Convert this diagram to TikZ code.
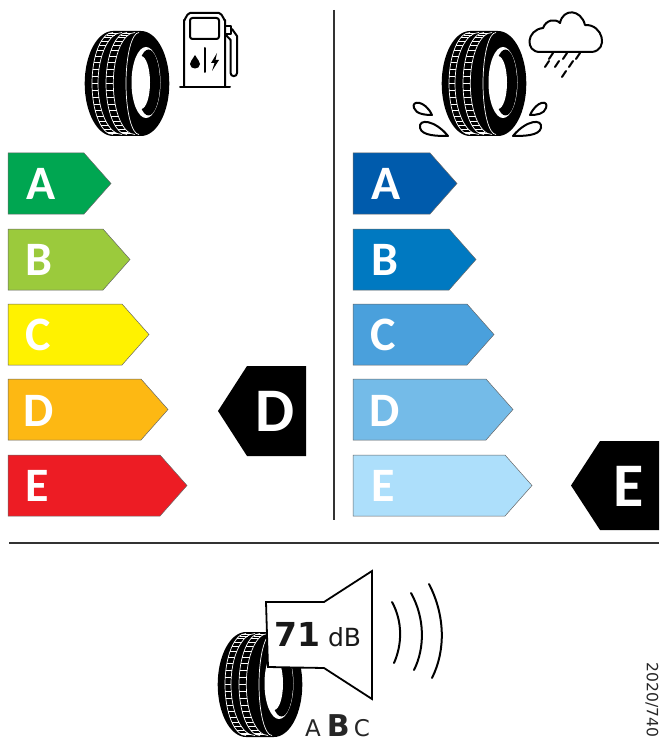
\documentclass[tikz,border=0pt]{standalone}
\usepackage{fontspec}
\setmainfont{Carlito}
\newfontfamily\labelfont{DejaVu Sans}
\definecolor{fuelA}{HTML}{00A651}
\definecolor{fuelB}{HTML}{9BCA3C}
\definecolor{fuelC}{HTML}{FFF200}
\definecolor{fuelD}{HTML}{FDB813}
\definecolor{fuelE}{HTML}{ED1C24}
\definecolor{wetA}{HTML}{005BAC}
\definecolor{wetB}{HTML}{0079C1}
\definecolor{wetC}{HTML}{4AA0DC}
\definecolor{wetD}{HTML}{74BBE8}
\definecolor{wetE}{HTML}{ADDFFB}
\tikzset{
	grade/.style={draw=black!60,line width=.5pt},
	letter/.style={anchor=base west,inner sep=0pt,text=white,font=\fontsize{48}{48}\selectfont\bfseries},
	bigletter/.style={anchor=base west,inner sep=0pt,text=white,font=\fontsize{62}{62}\selectfont\bfseries},
	rule/.style={line width=1.3pt,draw=black!80},
	icon/.style={line width=2pt,line cap=round,line join=round},
	tread/.style={white,line width=.7pt},
	tyre/.pic={
		\fill[black] (-28,-52.5) arc[start angle=90,end angle=270,x radius=28.3pt,y radius=52.5pt] -- (0,52.5) arc[start angle=-90,end angle=90,x radius=28.3pt,y radius=52.5pt] -- cycle;
		\fill[white] (5,-1) ellipse[x radius=14.5pt,y radius=35.5pt];
		\fill[black] (7.5,-1) ellipse[x radius=11.5pt,y radius=33pt];
		\fill[white] (0,-1) ellipse[x radius=9pt,y radius=26.5pt];
		\draw[tread] (-28,-51) arc[start angle=90,end angle=270,x radius=21pt,y radius=51pt];
		\draw[tread] (-19,-51) arc[start angle=90,end angle=270,x radius=24pt,y radius=51pt];
		\draw[tread] (-14,-51) arc[start angle=90,end angle=270,x radius=21pt,y radius=51pt];
		\draw[tread] (-6,-51) arc[start angle=90,end angle=270,x radius=21.7pt,y radius=51pt];
		\draw[tread] (-2,-51) arc[start angle=90,end angle=270,x radius=13pt,y radius=51pt];
		\foreach \t in {100,108,...,260} {
			\draw[tread] ({-28+21*cos(\t)},{51*sin(\t)}) -- ({-19+24*cos(\t)},{51*sin(\t)});
			\draw[tread] ({-14+21*cos(\t)},{51*sin(\t)}) -- ({-6+21.7*cos(\t)},{51*sin(\t)});
		}
	}
}
\begin{document}
\begin{tikzpicture}[x=1pt,y=-1pt]
	\useasboundingbox (0,0) rectangle (663,746);
	% rules
	\coordinate (railtop) at (334,10);
	\coordinate (railbottom) at (334,520);
	\coordinate (ruleleft) at (9,543);
	\coordinate (ruleright) at (659,543);
	\draw[rule] (railtop) -- (railbottom);
	\draw[rule] (ruleleft) -- (ruleright);
	% fuel scale
	\foreach \name/\col/\ytop/\tip/\xl/\base in {A/fuelA/153/111/26/199.5,B/fuelB/229/130/25/275,C/fuelC/304/149/25/350.5,D/fuelD/379/168/23/426,E/fuelE/455/187/25/501.5} {
		\draw[grade,fill=\col] (8,\ytop) -- ({\tip-27},\ytop) -- (\tip,\ytop+30.5) -- ({\tip-27},\ytop+61) -- (8,\ytop+61) -- cycle;
		\node[letter] (fuel\name) at (\xl,\base) {\name};
	}
	% wet grip scale
	\foreach \name/\col/\ytop/\tip/\xl/\base in {A/wetA/153/457/371/199.5,B/wetB/229/476/371/275,C/wetC/304/494/370/350.5,D/wetD/379/513/369/426,E/wetE/455/532/371/501.5} {
		\draw[grade,fill=\col] (353,\ytop) -- ({\tip-27},\ytop) -- (\tip,\ytop+30.5) -- ({\tip-27},\ytop+61) -- (353,\ytop+61) -- cycle;
		\node[letter] (wet\name) at (\xl,\base) {\name};
	}
	% ratings
	\fill[black] (218,411) -- (247,366) -- (306,366) -- (306,456) -- (247,456) -- cycle;
	\node[bigletter] (fuelrate) at (255,431) {D};
	\fill[black] (571,485.5) -- (600,441) -- (659,441) -- (659,530) -- (600,530) -- cycle;
	\node[bigletter] (wetrate) at (613,506) {E};
	% tyres
	\pic at (141,83.5) {tyre};
	\pic at (498,83.5) {tyre};
	\pic at (274,684.5) {tyre};
	% fuel pump
	\begin{scope}[icon]
		\draw (184,87) -- (184,20) to[out=-90,in=180] (190,13) -- (219,13) to[out=0,in=-90] (225,20) -- (225,87);
		\draw (180,87) -- (230,87);
		\draw[rounded corners=2.5pt] (190,18) rectangle (219,39);
		\draw (205,48) -- (205,72);
		\fill (195,55) .. controls (192,60) and (190,62) .. (190,64) .. controls (190,70) and (200,70) .. (200,64) .. controls (200,62) and (198,60) .. (195,55) -- cycle;
		\fill (217,53) -- (211,63) -- (214.5,63) -- (212,71) -- (219,60) -- (215.5,60) -- cycle;
		\draw (225,26) -- (231,26) -- (231,34) -- (225,34);
		\draw (232,29) -- (237,36) -- (237,73) arc[start angle=0,end angle=-180,radius=3.2pt] -- (230.6,40) -- (225,34);
	\end{scope}
	% rain cloud
	\begin{scope}[icon]
		\draw (540,52) .. controls (525,52) and (526,30) .. (543,28) .. controls (546,20) and (555,18) .. (560,23) .. controls (563,8) and (581,9) .. (585,25) .. controls (603,24) and (609,50) .. (592,52) -- cycle;
		\foreach \xa/\ya in {553/53,549/61,567/53,559/61,580/53,573/61,566/71} {
			\draw (\xa,\ya) -- (\xa-4,\ya+6);
		}
	\end{scope}
	% splashes
	\begin{scope}[icon]
		\draw (432,115) .. controls (425,100) and (411,100) .. (414,108) .. controls (416,114) and (425,115) .. (432,115) -- cycle;
		\draw (448,136) .. controls (435,120) and (418,118) .. (420,128) .. controls (422,136) and (438,136) .. (448,136) -- cycle;
		\draw (530,115) .. controls (537,100) and (549,100) .. (546,108) .. controls (544,114) and (537,115) .. (530,115) -- cycle;
		\draw (513,136) .. controls (526,120) and (543,118) .. (541,128) .. controls (539,136) and (523,136) .. (513,136) -- cycle;
	\end{scope}
	% noise speaker
	\draw[fill=white,line width=1.8pt,line join=miter] (266,602) -- (324,602) -- (372,571) -- (372,699) -- (324,668) -- (268,667) -- cycle;
	\node[anchor=base west,inner sep=0pt,text=black!90] (noise) at (274,646) {\labelfont\fontsize{33}{33}\selectfont\textbf{71}\fontsize{25}{25}\selectfont\ dB};
	\coordinate (waveAtop) at (392,602);
	\coordinate (waveAbot) at (394,663);
	\coordinate (waveBtop) at (411,593);
	\coordinate (waveBbot) at (414,670);
	\coordinate (waveCtop) at (429,584);
	\coordinate (waveCbot) at (432,678);
	\draw[icon] (waveAtop) .. controls (403,622) and (402,645) .. (waveAbot);
	\draw[icon] (waveBtop) .. controls (425,618) and (425,648) .. (waveBbot);
	\draw[icon] (waveCtop) .. controls (445,615) and (446,650) .. (waveCbot);
	\node[anchor=base west,inner sep=0pt,text=black!85] (noiseclass) at (305,736) {\labelfont\fontsize{23}{23}\selectfont A\kern6pt\fontsize{30}{30}\selectfont\textbf{B}\kern4pt\fontsize{23}{23}\selectfont C};
	\node[rotate=-90,inner sep=0pt,text=black!85] (regulation) at (652,700) {\labelfont\fontsize{15.5}{15.5}\selectfont 2020/740};
\end{tikzpicture}
\end{document}
